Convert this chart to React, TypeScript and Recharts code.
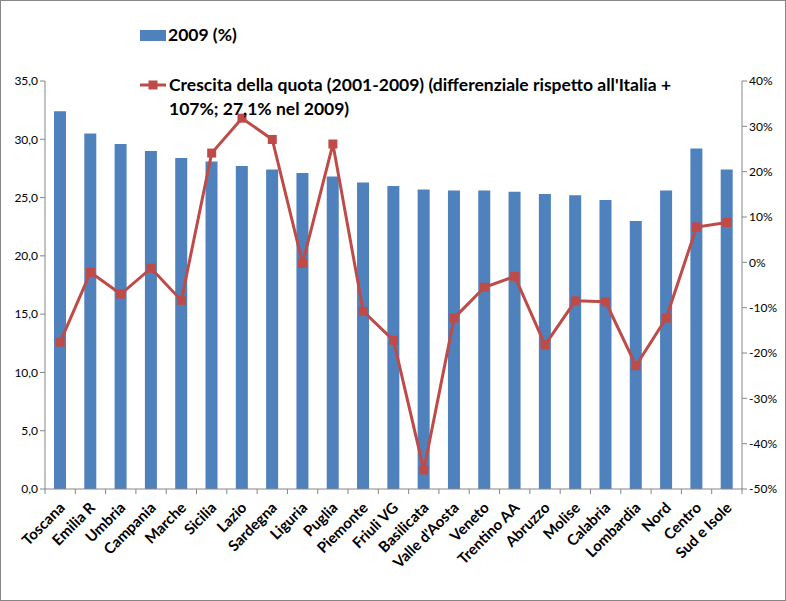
import { ComposedChart, Bar, Line, XAxis, YAxis } from "recharts"

const categories = [
  "Toscana", "Emilia R", "Umbria", "Campania", "Marche", "Sicilia", "Lazio", "Sardegna",
  "Liguria", "Puglia", "Piemonte", "Friuli VG", "Basilicata", "Valle d'Aosta", "Veneto",
  "Trentino AA", "Abruzzo", "Molise", "Calabria", "Lombardia", "Nord", "Centro", "Sud e Isole",
]
const share2009 = [
  32.4, 30.5, 29.6, 29.0, 28.4, 28.1, 27.7, 27.4, 27.1, 26.8, 26.3, 26.0,
  25.7, 25.6, 25.6, 25.5, 25.3, 25.2, 24.8, 23.0, 25.6, 29.2, 27.4,
]
const growth = [
  -17.6, -2.2, -7.0, -1.3, -8.4, 24.1, 31.8, 27.1, -0.2, 26.1, -10.8, -17.2,
  -45.8, -12.3, -5.5, -3.1, -18.2, -8.5, -8.7, -22.8, -12.3, 7.8, 8.8,
]
const leftTicks = [0, 5, 10, 15, 20, 25, 30, 35]
const rightTicks = [-50, -40, -30, -20, -10, 0, 10, 20, 30, 40]

const data = categories.map((name, i) => ({ name, share: share2009[i], growth: growth[i] }))

const BLUE = "#4F81BD"
const RED = "#BE4B48"
const AXIS = "#868686"
const FONT = "Lato, 'Open Sans', sans-serif"
const PLOT_LEFT = 45
const PLOT_RIGHT = 742
const BAND = (PLOT_RIGHT - PLOT_LEFT) / categories.length

const CategoryTick = (props: any) => {
  const { x, y, payload, index } = props
  const half = BAND / 2
  return (
    <g>
      <line x1={x - half} x2={x - half} y1={y} y2={y + 5} stroke={AXIS} />
      {index === categories.length - 1 && (
        <line x1={x + half} x2={x + half} y1={y} y2={y + 5} stroke={AXIS} />
      )}
      <text
        transform={`translate(${x + 3},${y + 17}) rotate(-45)`}
        textAnchor="end"
        dominantBaseline="middle"
        fontSize={15}
        fontWeight={700}
        fontFamily={FONT}
        fill="#000"
      >
        {payload.value}
      </text>
    </g>
  )
}

const SquareDot = (props: any) => {
  const { cx, cy } = props
  if (cx == null || cy == null) return null
  return <rect x={cx - 4.5} y={cy - 4.5} width={9} height={9} fill={RED} />
}

export default function App() {
  return (
    <div
      style={{
        position: "absolute",
        left: 0,
        top: 0,
        width: 786,
        height: 601,
        boxSizing: "border-box",
        border: `1px solid ${AXIS}`,
        background: "#fff",
        fontFamily: FONT,
      }}
    >
      <ComposedChart
        width={784}
        height={599}
        data={data}
        margin={{ top: 80, right: 0, left: 0, bottom: 0 }}
        barSize={12}
      >
        <XAxis
          dataKey="name"
          interval={0}
          height={111}
          tickSize={0}
          tickMargin={0}
          tickLine={false}
          stroke={AXIS}
          tick={<CategoryTick />}
        />
        <YAxis
          yAxisId="left"
          width={44}
          domain={[0, 35]}
          ticks={leftTicks}
          tickFormatter={(v: number) => v.toFixed(1).replace(".", ",")}
          stroke={AXIS}
          tickSize={5}
          tick={{ fontSize: 12, fill: "#000", fontFamily: FONT }}
        />
        <YAxis
          yAxisId="right"
          orientation="right"
          width={43}
          domain={[-50, 40]}
          ticks={rightTicks}
          tickFormatter={(v: number) => `${v}%`}
          stroke={AXIS}
          tickSize={5}
          tick={{ fontSize: 12, fill: "#000", fontFamily: FONT }}
        />
        <Bar yAxisId="left" dataKey="share" fill={BLUE} isAnimationActive={false} />
        <Line
          yAxisId="right"
          dataKey="growth"
          stroke={RED}
          strokeWidth={3}
          dot={<SquareDot />}
          activeDot={false}
          isAnimationActive={false}
        />
      </ComposedChart>
      <div style={{ position: "absolute", left: 139, top: 22, fontSize: 17.5, fontWeight: 700, color: "#000", lineHeight: "24px" }}>
        <div style={{ display: "flex", alignItems: "center" }}>
          <svg width={28} height={12}>
            <rect x={0} y={1} width={26} height={11} fill={BLUE} />
          </svg>
          <span>2009 (%)</span>
        </div>
        <div style={{ display: "flex", alignItems: "flex-start", marginTop: 26 }}>
          <svg width={29} height={24} style={{ flexShrink: 0 }}>
            <line x1={0} x2={26} y1={12} y2={12} stroke={RED} strokeWidth={3} />
            <rect x={8.5} y={7.5} width={9} height={9} fill={RED} />
          </svg>
          <span>
            Crescita della quota (2001-2009) (differenziale rispetto all'Italia +
            <br />
            107%; 27,1% nel 2009)
          </span>
        </div>
      </div>
    </div>
  )
}
